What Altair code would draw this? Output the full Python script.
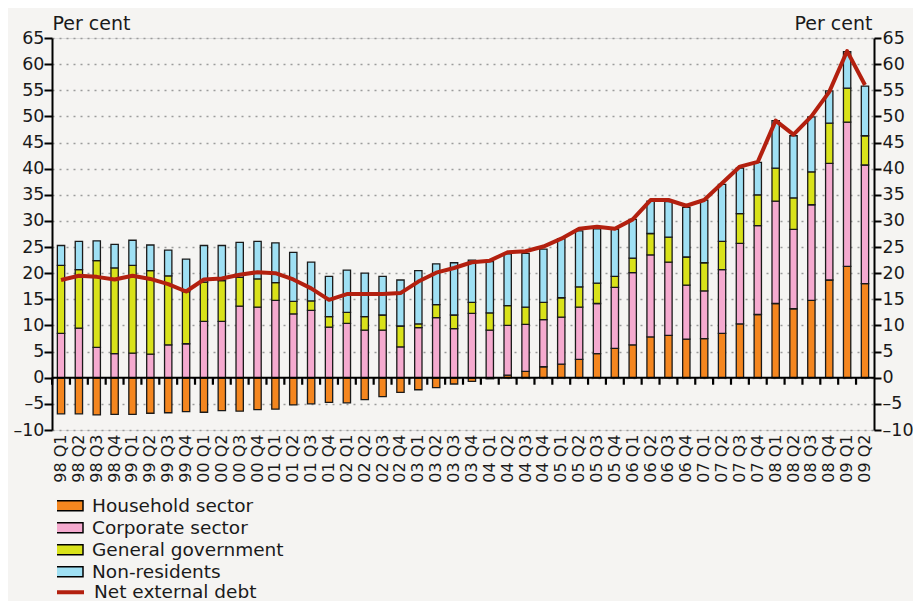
import altair as alt
import pandas as pd

quarters = ["98 Q1", "98 Q2", "98 Q3", "98 Q4", "99 Q1", "99 Q2", "99 Q3", "99 Q4",
            "00 Q1", "00 Q2", "00 Q3", "00 Q4", "01 Q1", "01 Q2", "01 Q3", "01 Q4",
            "02 Q1", "02 Q2", "02 Q3", "02 Q4", "03 Q1", "03 Q2", "03 Q3", "03 Q4",
            "04 Q1", "04 Q2", "04 Q3", "04 Q4", "05 Q1", "05 Q2", "05 Q3", "05 Q4",
            "06 Q1", "06 Q2", "06 Q3", "06 Q4", "07 Q1", "07 Q2", "07 Q3", "07 Q4",
            "08 Q1", "08 Q2", "08 Q3", "08 Q4", "09 Q1", "09 Q2"]

household = [-6.9, -6.9, -7.1, -7.0, -7.0, -6.8, -6.7, -6.5, -6.6, -6.3, -6.4, -6.1,
             -6.0, -5.2, -5.0, -4.7, -4.8, -4.2, -3.6, -2.8, -2.3, -1.9, -1.2, -0.7,
             -0.2, 0.5, 1.2, 2.1, 2.6, 3.5, 4.6, 5.6, 6.3, 7.8, 8.1, 7.4,
             7.5, 8.5, 10.3, 12.1, 14.2, 13.2, 14.8, 18.7, 21.3, 18.0]
corporate = [8.5, 9.5, 5.8, 4.6, 4.7, 4.5, 6.3, 6.5, 10.8, 10.8, 13.7, 13.5,
             14.8, 12.2, 12.9, 9.7, 10.4, 9.1, 9.1, 5.9, 9.6, 11.5, 9.4, 12.3,
             9.1, 9.5, 9.0, 9.0, 9.0, 10.0, 9.6, 11.7, 13.8, 15.7, 14.0, 10.3,
             9.1, 12.2, 15.4, 17.0, 19.6, 15.2, 18.3, 22.3, 27.6, 22.7]
government = [13.0, 11.2, 16.6, 16.4, 16.8, 16.0, 13.2, 10.0, 7.5, 7.8, 5.5, 5.4,
              3.4, 2.4, 1.8, 2.0, 2.1, 2.6, 2.9, 4.0, 0.7, 2.5, 2.6, 2.1,
              3.3, 3.8, 3.3, 3.3, 3.7, 3.9, 3.9, 2.1, 2.8, 4.1, 4.8, 5.4,
              5.4, 5.4, 5.7, 5.9, 6.3, 6.0, 6.3, 7.7, 6.5, 5.6]
nonresidents = [3.8, 5.4, 3.8, 4.5, 4.8, 4.9, 4.9, 6.2, 7.0, 6.7, 6.7, 7.2,
                7.6, 9.4, 7.4, 7.7, 8.1, 8.3, 7.4, 8.8, 10.2, 7.8, 10.0, 8.1,
                9.8, 9.9, 10.3, 10.2, 11.3, 10.7, 10.4, 9.0, 7.4, 6.2, 6.8, 9.5,
                12.0, 10.9, 8.7, 6.2, 9.1, 11.9, 10.5, 6.2, 7.0, 9.5]
net_external_debt = [18.7, 19.5, 19.3, 18.8, 19.5, 18.9, 17.9, 16.5, 18.8, 19.0, 19.7, 20.2,
                     20.0, 18.8, 17.1, 14.9, 16.0, 16.0, 16.0, 16.2, 18.4, 20.1, 21.0, 22.1,
                     22.4, 24.0, 24.2, 25.1, 26.6, 28.5, 28.9, 28.5, 30.3, 34.0, 34.0, 32.9,
                     34.0, 37.2, 40.4, 41.3, 49.2, 46.5, 50.0, 54.7, 62.5, 56.0]

series_names = ["Household sector", "Corporate sector", "General government", "Non-residents"]
series_colors = ["#f4861f", "#f5aacf", "#d9e21a", "#9fe0f4"]
line_name = "Net external debt"
line_color = "#b3200f"
y_ticks = list(range(-10, 70, 5))

rows = []
for i, q in enumerate(quarters):
    for k, (name, vals) in enumerate(zip(series_names, [household, corporate, government, nonresidents])):
        rows.append({"quarter": q, "series": name, "value": vals[i], "order": k})
bars_df = pd.DataFrame(rows)
line_df = pd.DataFrame({"quarter": quarters, "net": net_external_debt, "name": line_name})
zero_df = pd.DataFrame({"zero": [0]})
tick_df = pd.DataFrame({"quarter": quarters, "zero": [0] * len(quarters)})

FONT = "DejaVu Sans"
W, H = 822, 392
yscale = alt.Scale(domain=[-10, 65], nice=False, zero=False)
xscale = alt.Scale(domain=quarters, paddingInner=0.59, paddingOuter=0.3)
minus_expr = "replace(datum.label, '\u2212', '\u2013')"

x_axis = alt.Axis(title=None, labelAngle=-90, labelFontSize=16, labelColor="#1a1a1a",
                  domain=False, ticks=False, grid=False, labelPadding=4, labelFont=FONT,
                  labelOverlap=False)

left_axis = alt.Axis(title="Per cent", titleAngle=0, titleAlign="left", titleBaseline="alphabetic",
                     titleX=0, titleY=-9, titleFontSize=19, titleFontWeight="normal", titleColor="#1a1a1a",
                     titleFont=FONT,
                     values=y_ticks, tickSize=8, tickWidth=2, tickColor="black",
                     domainColor="black", domainWidth=2, labelFontSize=17.5, labelColor="#1a1a1a",
                     labelPadding=0, labelFont=FONT, labelExpr=minus_expr,
                     grid=True, gridColor="#9c9c9c", gridDash=[2, 5], gridWidth=1.5)
right_axis = alt.Axis(title="Per cent", orient="right", titleAngle=0, titleAlign="right",
                      titleBaseline="alphabetic", titleX=-2, titleY=-9, titleFontSize=19,
                      titleFontWeight="normal", titleColor="#1a1a1a", titleFont=FONT,
                      values=y_ticks, tickSize=7, tickWidth=2, tickColor="black",
                      domainColor="black", domainWidth=2, labelFontSize=17.5, labelColor="#1a1a1a",
                      labelPadding=1, labelFont=FONT, labelExpr=minus_expr, grid=False)

legend_common = dict(title=None, orient="none", direction="vertical", symbolSize=400,
                     labelFontSize=18.5, labelColor="#1a1a1a", labelFont=FONT, labelLimit=0,
                     labelOffset=13, rowPadding=0, padding=0, clipHeight=21.5)

bars = alt.Chart(bars_df).mark_bar(stroke="#1a1a1a", strokeWidth=1.3).encode(
    x=alt.X("quarter:N", sort=quarters, scale=xscale, axis=x_axis),
    y=alt.Y("value:Q", stack="zero", scale=yscale, axis=left_axis),
    fill=alt.Fill("series:N", scale=alt.Scale(domain=series_names, range=series_colors),
                  legend=alt.Legend(legendX=5, legendY=457,
                                    symbolType="M-1.5,-0.5H1.5V0.5H-1.5Z",
                                    symbolStrokeColor="black", symbolStrokeWidth=1.5,
                                    **legend_common)),
    order=alt.Order("order:Q"),
)

zero_rule = alt.Chart(zero_df).mark_rule(color="black", strokeWidth=2.2).encode(
    y=alt.Y("zero:Q", scale=yscale, axis=None),
)

ticks = alt.Chart(tick_df).mark_rule(color="black", strokeWidth=2.2, xOffset=-8.93, y2Offset=7).encode(
    x=alt.X("quarter:N", sort=quarters, scale=xscale, axis=x_axis),
    y=alt.Y("zero:Q", scale=yscale, axis=None),
    y2=alt.Y2("zero:Q"),
)

line = alt.Chart(line_df).mark_line(strokeWidth=4, strokeJoin="round").encode(
    x=alt.X("quarter:N", sort=quarters, scale=xscale, axis=x_axis),
    y=alt.Y("net:Q", scale=yscale, axis=right_axis),
    stroke=alt.Stroke("name:N", scale=alt.Scale(domain=[line_name], range=[line_color]),
                      legend=alt.Legend(legendX=5, legendY=543.5,
                                        symbolType="M-1.5,0H1.5", symbolStrokeWidth=4,
                                        **legend_common)),
)

chart = alt.layer(bars, zero_rule, ticks, line).resolve_scale(y="independent").properties(
    width=W, height=H,
    background="#f5f4f2",
    autosize=alt.AutoSizeParams(type="none"),
    padding={"left": 44, "top": 30, "right": 39, "bottom": 171},
).configure_view(stroke=None).configure(font=FONT)

chart.save("out.html", embed_options={"renderer": "svg", "actions": False})
